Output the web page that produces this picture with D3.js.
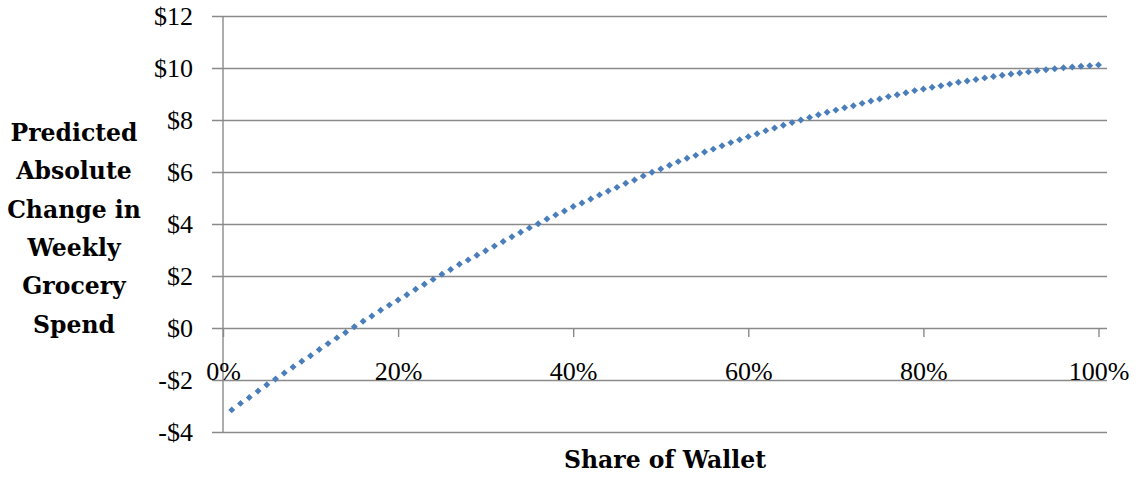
<!DOCTYPE html>
<html>
<head>
<meta charset="utf-8">
<script src="https://cdn.jsdelivr.net/npm/d3@7"></script>
<style>
  html, body { margin: 0; padding: 0; background: #fff; }
  svg { display: block; }
</style>
</head>
<body>
<svg id="chart" width="1138" height="477"></svg>
<script>
// ---- data ----
const shareOfWallet = d3.range(1, 101).map(d => d / 100);
const predictedChange = [
  -3.15, -2.90, -2.67, -2.42, -2.18, -1.96, -1.73, -1.50, -1.28, -1.07,
  -0.83, -0.60, -0.38, -0.17, 0.05, 0.26, 0.46, 0.68, 0.88, 1.08,
  1.28, 1.49, 1.68, 1.87, 2.07, 2.25, 2.45, 2.62, 2.80, 2.97,
  3.15, 3.33, 3.51, 3.68, 3.85, 4.01, 4.19, 4.35, 4.50, 4.67,
  4.81, 4.96, 5.12, 5.27, 5.41, 5.57, 5.69, 5.85, 5.99, 6.12,
  6.26, 6.40, 6.53, 6.64, 6.77, 6.88, 7.01, 7.13, 7.24, 7.36,
  7.47, 7.59, 7.69, 7.80, 7.90, 8.00, 8.10, 8.20, 8.30, 8.38,
  8.47, 8.55, 8.64, 8.73, 8.81, 8.90, 8.97, 9.05, 9.13, 9.19,
  9.26, 9.32, 9.38, 9.45, 9.50, 9.56, 9.62, 9.67, 9.72, 9.77,
  9.81, 9.85, 9.90, 9.93, 9.97, 10.01, 10.04, 10.07, 10.09, 10.12
];
const yTicks = [-4, -2, 0, 2, 4, 6, 8, 10, 12];
const xTicks = [0, 0.2, 0.4, 0.6, 0.8, 1.0];
const yTitleLines = ["Predicted", "Absolute", "Change in", "Weekly", "Grocery", "Spend"];
const xTitle = "Share of Wallet";

// ---- layout ----
const svg = d3.select("#chart");
const gridLeft = 212, gridRight = 1107;
const x = d3.scaleLinear().domain([0, 1]).range([223, 1098.5]);
const y = d3.scaleLinear().domain([-4, 12]).range([432, 16]);
const gridColor = "#8a8a8a";
const tickFont = "'Liberation Serif', 'Times New Roman', serif";
const titleFont = "'DejaVu Serif', serif";

// y axis with gridlines
const yAxis = d3.axisLeft(y)
  .tickValues(yTicks)
  .tickSize(-(gridRight - gridLeft))
  .tickPadding(19)
  .tickFormat(d => (d < 0 ? "-$" : "$") + Math.abs(d));
const gy = svg.append("g")
  .attr("transform", `translate(${gridLeft},0)`)
  .call(yAxis);
gy.select(".domain").remove();
gy.selectAll(".tick line").attr("stroke", gridColor).attr("stroke-width", 1.4);
gy.selectAll(".tick text")
  .attr("fill", "#000")
  .style("font-family", tickFont)
  .style("font-size", "26px");

// vertical axis line
svg.append("line")
  .attr("x1", x(0)).attr("x2", x(0))
  .attr("y1", y(12)).attr("y2", y(-4))
  .attr("stroke", gridColor).attr("stroke-width", 1.4);

// x axis at $0
const xAxis = d3.axisBottom(x)
  .tickValues(xTicks)
  .tickSize(9)
  .tickFormat(d3.format(".0%"));
const gx = svg.append("g")
  .attr("transform", `translate(0,${y(0)})`)
  .call(xAxis);
gx.select(".domain").remove();
gx.selectAll(".tick line").attr("stroke", gridColor).attr("stroke-width", 1.4);
gx.selectAll(".tick text")
  .attr("fill", "#000")
  .attr("y", 380 - y(0))
  .attr("dy", 0)
  .style("font-family", tickFont)
  .style("font-size", "26px");

// markers (diamonds)
const diamond = d3.symbol().type(d3.symbolSquare).size(24);
svg.append("g")
  .selectAll("path")
  .data(shareOfWallet.map((s, i) => [s, predictedChange[i]]))
  .join("path")
  .attr("d", diamond)
  .attr("transform", d => `translate(${x(d[0])},${y(d[1])}) rotate(45)`)
  .attr("fill", "#4a7ebb");

// y title
svg.append("text")
  .attr("text-anchor", "middle")
  .style("font-family", titleFont)
  .style("font-weight", "bold")
  .style("font-size", "23.5px")
  .attr("fill", "#000")
  .selectAll("tspan")
  .data(yTitleLines)
  .join("tspan")
  .attr("x", 74)
  .attr("y", (d, i) => 141 + i * 38.3)
  .text(d => d);

// x title
svg.append("text")
  .attr("x", 665)
  .attr("y", 468)
  .attr("text-anchor", "middle")
  .style("font-family", titleFont)
  .style("font-weight", "bold")
  .style("font-size", "23.5px")
  .attr("fill", "#000")
  .text(xTitle);
</script>
</body>
</html>
